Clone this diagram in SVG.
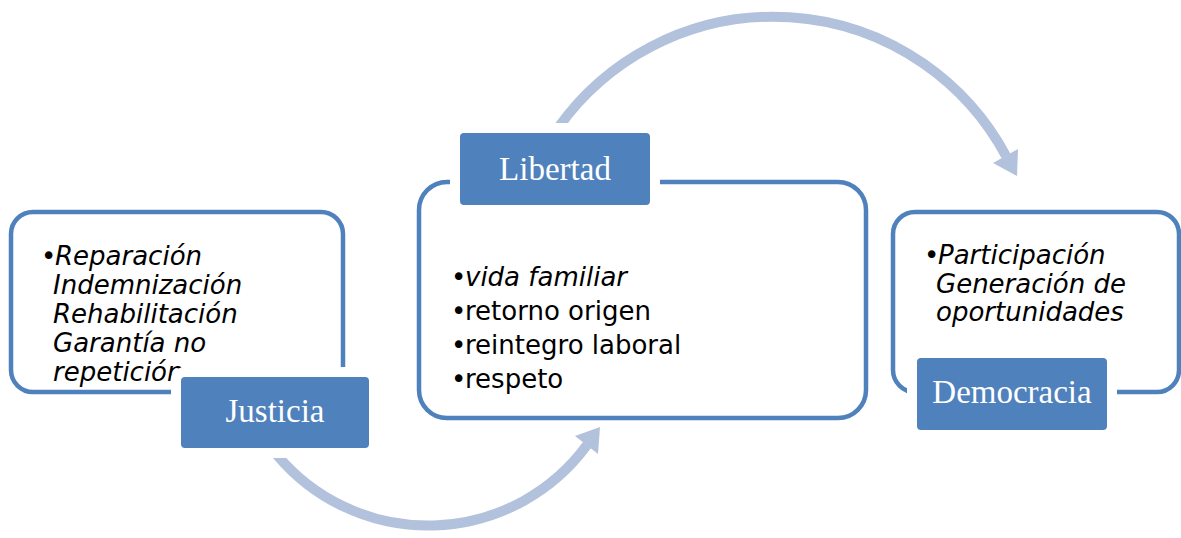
<svg xmlns="http://www.w3.org/2000/svg" width="1181" height="538" viewBox="0 0 1181 538">
<style>
.frame{fill:#ffffff;stroke:#4F81BD;stroke-width:4.5}
.label{fill:#4F81BD;stroke:#ffffff;stroke-width:10}
.lt{font-family:"Liberation Serif",serif;font-size:33px;fill:#ffffff;text-anchor:middle}
.bt{font-family:"DejaVu Sans","Verdana",sans-serif;font-size:26px;fill:#000000}
.it{font-style:italic}
.arc{fill:none;stroke:#B2C1DC;stroke-width:10}
.head{fill:#B2C1DC}
</style>
<rect width="1181" height="538" fill="#ffffff"/>
<g id="connectors">
<path class="arc" d="M 558 128 A 264 264 0 0 1 1006 156"/>
<polygon class="head" points="1017,176 1018,149 993,163"/>
<path class="arc" d="M 277 455 A 197 197 0 0 0 587 445"/>
<polygon class="head" points="600,427 598,454 575,436"/>
</g>
<g id="justicia">
<rect class="frame" x="11" y="212" width="332" height="180" rx="22"/>
<text class="bt" x="41" y="265">•</text>
<text class="bt it" x="55" y="265">Reparación</text>
<text class="bt it" x="53" y="294">Indemnización</text>
<text class="bt it" x="53" y="323">Rehabilitación</text>
<text class="bt it" x="53" y="352">Garantía no</text>
<text class="bt it" x="53" y="381">repetición</text>
<rect class="label" x="176" y="372" width="198" height="81" rx="9"/>
<text class="lt" x="275" y="422">Justicia</text>
</g>
<g id="libertad">
<rect class="frame" x="419" y="182" width="447" height="236" rx="28"/>
<text class="bt" x="451" y="286">•</text>
<text class="bt it" x="465" y="286">vida familiar</text>
<text class="bt" x="451" y="320">•</text>
<text class="bt" x="465" y="320">retorno origen</text>
<text class="bt" x="451" y="354">•</text>
<text class="bt" x="465" y="354">reintegro laboral</text>
<text class="bt" x="451" y="388">•</text>
<text class="bt" x="465" y="388">respeto</text>
<rect class="label" x="455" y="128" width="200" height="82" rx="9"/>
<text class="lt" x="555" y="180">Libertad</text>
</g>
<g id="democracia">
<rect class="frame" x="893" y="212" width="286" height="180" rx="22"/>
<text class="bt" x="924" y="264">•</text>
<text class="bt it" x="938" y="264">Participación</text>
<text class="bt it" x="936" y="293">Generación de</text>
<text class="bt it" x="936" y="321">oportunidades</text>
<rect class="label" x="912" y="353" width="200" height="82" rx="9"/>
<text class="lt" x="1012" y="403">Democracia</text>
</g>
</svg>
